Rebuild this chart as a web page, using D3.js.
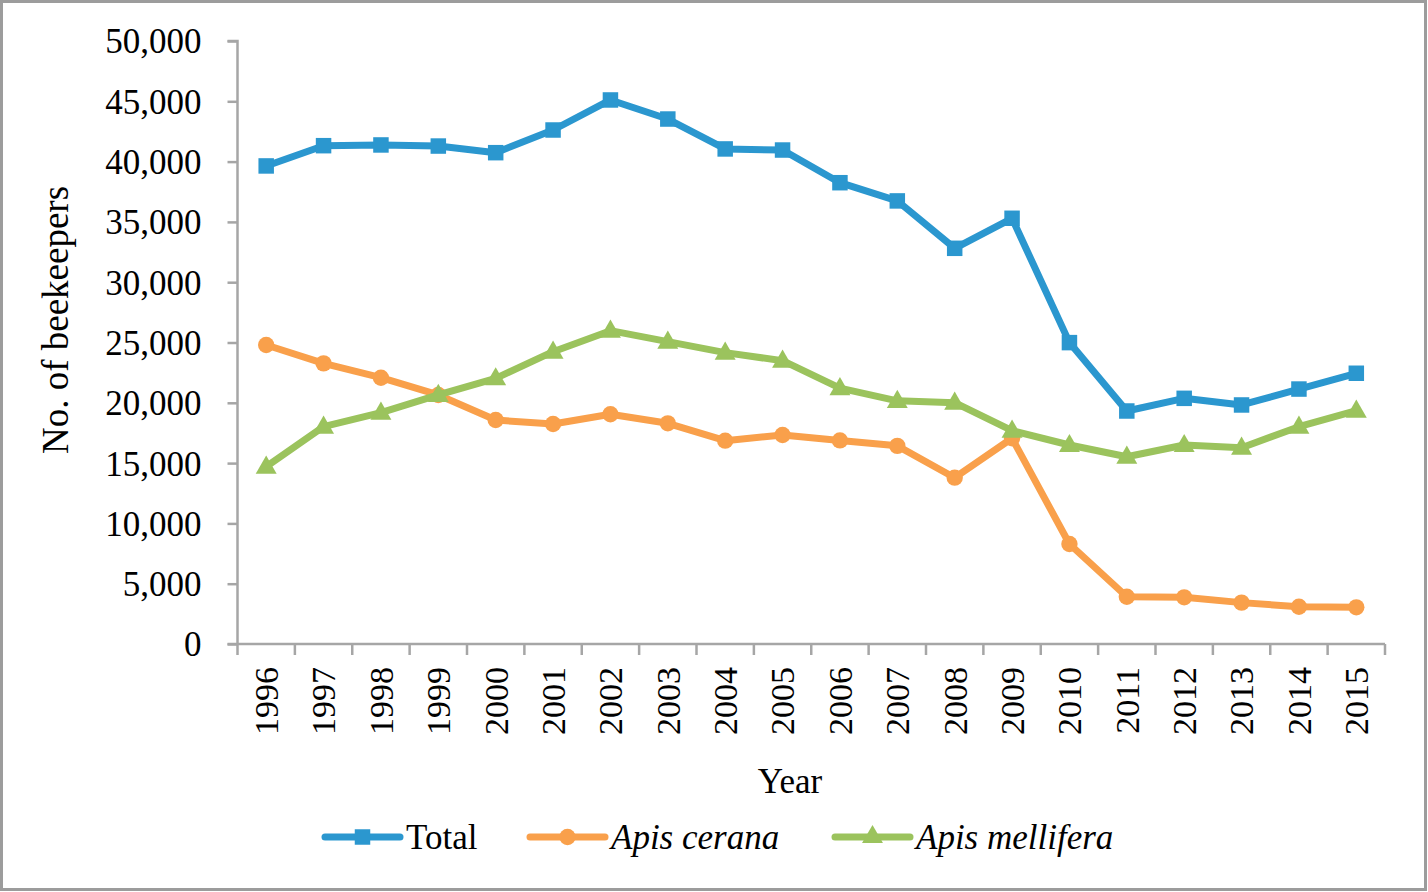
<!DOCTYPE html>
<html>
<head>
<meta charset="utf-8">
<script src="https://cdn.jsdelivr.net/npm/d3@7"></script>
<style>
  html, body { margin: 0; padding: 0; background: #fff; }
  svg { display: block; }
  text { font-family: "Liberation Serif", "Times New Roman", serif; fill: #000; }
</style>
</head>
<body>
<svg id="chart" width="1428" height="892"></svg>
<script>
const years = ["1996","1997","1998","1999","2000","2001","2002","2003","2004","2005","2006","2007","2008","2009","2010","2011","2012","2013","2014","2015"];
const totalValues = [39640, 41320, 41380, 41290, 40740, 42620, 45110, 43530, 41050, 40960, 38250, 36740, 32810, 35300, 24990, 19320, 20370, 19820, 21140, 22450];
const ceranaValues = [24790, 23270, 22080, 20650, 18570, 18240, 19050, 18300, 16860, 17330, 16880, 16430, 13790, 17060, 8290, 3920, 3870, 3430, 3090, 3040];
const melliferaValues = [14700, 18020, 19180, 20650, 22030, 24240, 25980, 25070, 24160, 23490, 21220, 20160, 20010, 17690, 16500, 15530, 16500, 16280, 18020, 19350];
const seriesNames = ["Total", "Apis cerana", "Apis mellifera"];
const yTicks = [0, 5000, 10000, 15000, 20000, 25000, 30000, 35000, 40000, 45000, 50000];

const colors = ["#2b97cf", "#f9a04b", "#9bc35d"];
const symbols = [d3.symbolSquare, d3.symbolCircle, d3.symbolTriangle];
const symbolSizes = [240, 210, 190];
const italics = [false, true, true];
const seriesData = [totalValues, ceranaValues, melliferaValues];

const svg = d3.select("#chart");
const axisColor = "#a6a6a6";

// background and border
svg.append("rect").attr("x", 0).attr("y", 0).attr("width", 1428).attr("height", 892).attr("fill", "#fff");
svg.append("rect").attr("x", 1.5).attr("y", 1.5).attr("width", 1424).attr("height", 888)
  .attr("fill", "none").attr("stroke", "#9c9c9c").attr("stroke-width", 3);

const x = d3.scaleBand().domain(years).range([237.5, 1385]).padding(0);
const y = d3.scaleLinear().domain([0, 50000]).range([644, 41]);
const cx = d => x(d) + x.bandwidth() / 2;

// Y axis
const yAxis = d3.axisLeft(y).tickValues(yTicks).tickFormat(d3.format(",")).tickSize(10).tickPadding(26);
const gy = svg.append("g").attr("transform", "translate(237.5,0)").call(yAxis);
gy.selectAll("path, line").attr("stroke", axisColor).attr("stroke-width", 2.5);
gy.select(".domain").attr("d", `M-10,${y(50000)}H0V${y(0)}`);
gy.selectAll("text").attr("font-size", 35).attr("font-family", "Liberation Serif").attr("fill", "#000").attr("dy", "0.34em");

// X axis (category ticks between bands)
const gx = svg.append("g");
gx.append("line").attr("x1", x.range()[0] - 10).attr("x2", x.range()[1]).attr("y1", y(0)).attr("y2", y(0))
  .attr("stroke", axisColor).attr("stroke-width", 2.5);
const boundaries = years.map(d => x(d)).concat([x(years[years.length - 1]) + x.bandwidth()]);
gx.selectAll("line.tick").data(boundaries).join("line").attr("class", "tick")
  .attr("x1", d => d).attr("x2", d => d).attr("y1", y(0)).attr("y2", y(0) + 11)
  .attr("stroke", axisColor).attr("stroke-width", 2.5);
gx.selectAll("text.year").data(years).join("text").attr("class", "year")
  .attr("transform", d => `translate(${cx(d)},667) rotate(-90)`)
  .attr("text-anchor", "end").attr("dy", "0.35em").attr("font-size", 34).text(d => d);

// Axis titles
svg.append("text").attr("transform", "translate(55,320) rotate(-90)")
  .attr("text-anchor", "middle").attr("dy", "0.34em").attr("font-size", 37).text("No. of beekeepers");
svg.append("text").attr("x", 790).attr("y", 793).attr("text-anchor", "middle").attr("font-size", 35).text("Year");

// Lines and markers
const line = d3.line().x((d, i) => cx(years[i])).y(d => y(d));
seriesData.forEach((vals, s) => {
  svg.append("path").datum(vals).attr("d", line).attr("fill", "none")
    .attr("stroke", colors[s]).attr("stroke-width", 7).attr("stroke-linejoin", "round");
  svg.append("g").selectAll("path").data(vals).join("path")
    .attr("transform", (d, i) => `translate(${cx(years[i])},${y(d) + (s === 2 ? 1 : 0)})`)
    .attr("d", d3.symbol().type(symbols[s]).size(symbolSizes[s]))
    .attr("fill", colors[s]);
});

// Legend
const legendItems = [
  { x1: 325, text: 406 },
  { x1: 530, text: 611 },
  { x1: 835, text: 916 }
];
const ly = 837;
legendItems.forEach((it, s) => {
  const g = svg.append("g");
  g.append("line").attr("x1", it.x1).attr("x2", it.x1 + 75).attr("y1", ly).attr("y2", ly)
    .attr("stroke", colors[s]).attr("stroke-width", 7).attr("stroke-linecap", "round");
  g.append("path").attr("transform", `translate(${it.x1 + 37.5},${ly})`)
    .attr("d", d3.symbol().type(symbols[s]).size(symbolSizes[s])).attr("fill", colors[s]);
  g.append("text").attr("x", it.text).attr("y", ly + 12).attr("font-size", 35)
    .attr("font-style", italics[s] ? "italic" : "normal").text(seriesNames[s]);
});
</script>
</body>
</html>
